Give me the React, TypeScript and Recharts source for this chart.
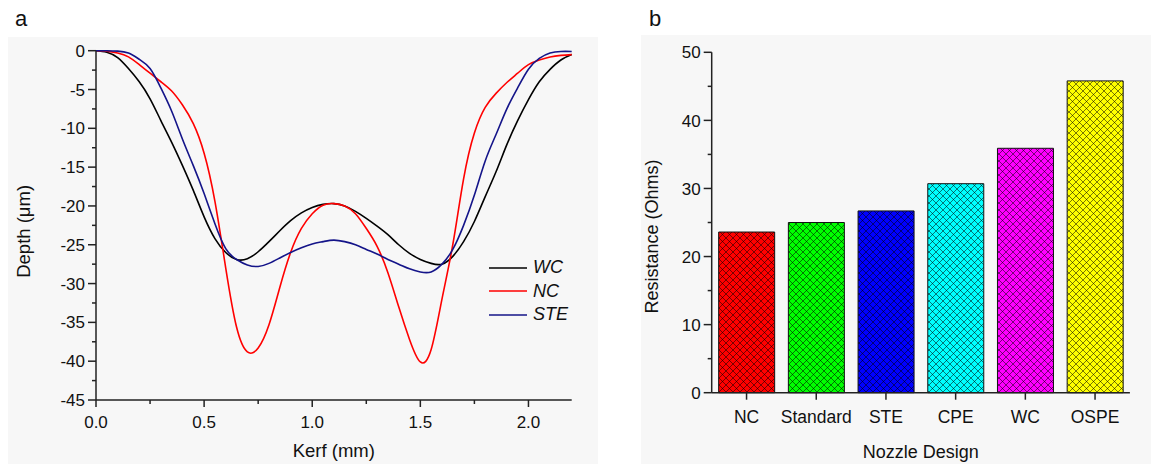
import React from 'react';
import { LineChart, Line, XAxis, YAxis, Legend, BarChart, Bar, Cell } from 'recharts';

// panel a: surface profiles across the kerf
const kerf = [
  0, 0.05, 0.1, 0.15, 0.2, 0.25, 0.3, 0.35, 0.4, 0.45,
  0.5, 0.55, 0.6, 0.65, 0.7, 0.75, 0.8, 0.85, 0.9, 0.95,
  1.0, 1.05, 1.1, 1.15, 1.2, 1.25, 1.3, 1.35, 1.4, 1.45,
  1.5, 1.55, 1.6, 1.65, 1.7, 1.75, 1.8, 1.85, 1.9, 1.95,
  2.0, 2.05, 2.1, 2.15, 2.2,
];
const wcDepth = [
  0, -0.2, -0.9, -2.3, -4.0, -6.2, -9.0, -11.8, -14.8, -18.0,
  -21.4, -24.2, -26.0, -26.9, -26.8, -25.9, -24.6, -23.2, -21.9, -20.9,
  -20.2, -19.8, -19.7, -20.0, -20.7, -21.6, -22.6, -23.7, -25.0, -26.1,
  -26.9, -27.4, -27.5, -26.5, -24.6, -22.0, -18.8, -15.6, -12.1, -9.0,
  -6.3, -4.0, -2.4, -1.2, -0.5,
];
const ncDepth = [
  0, -0.05, -0.3, -0.8, -1.8, -2.9, -4.0, -5.2, -7.0, -9.4,
  -13.2, -19.4, -28.0, -35.6, -38.8, -38.3, -35.3, -30.5, -26.0, -22.9,
  -21.0, -19.9, -19.7, -20.0, -21.0, -22.9, -25.2, -28.6, -33.0, -37.2,
  -40.1, -38.5, -32.0, -25.0, -16.5, -10.6, -7.3, -5.5, -4.1, -2.9,
  -1.8, -1.2, -0.8, -0.6, -0.5,
];
const steDepth = [
  0, 0, -0.05, -0.3, -1.1, -2.3, -4.8, -7.8, -11.4, -14.8,
  -18.4, -22.3, -25.5, -26.9, -27.6, -27.8, -27.4, -26.7, -26.0, -25.4,
  -24.9, -24.6, -24.4, -24.6, -25.0, -25.6, -26.2, -26.9, -27.5, -28.1,
  -28.5, -28.5, -27.5, -25.6, -22.5, -18.6, -14.2, -10.8, -7.5, -4.8,
  -2.4, -1.0, -0.3, -0.1, -0.1,
];
const seriesNames = ['WC', 'NC', 'STE'];
const depthTicks = [
  -45, -42.5, -40, -37.5, -35, -32.5, -30, -27.5, -25, -22.5,
  -20, -17.5, -15, -12.5, -10, -7.5, -5, -2.5, 0,
];
const kerfTicks = [0, 0.25, 0.5, 0.75, 1.0, 1.25, 1.5, 1.75, 2.0];

// panel b: resistance per nozzle design
const designs = ['NC', 'Standard', 'STE', 'CPE', 'WC', 'OSPE'];
const resistance = [23.6, 25.0, 26.7, 30.7, 35.9, 45.8];
const resistanceTicks = [0, 5, 10, 15, 20, 25, 30, 35, 40, 45, 50];
const barColors = ['#ff0000', '#00ff00', '#0000ff', '#00ffff', '#ff00ff', '#ffff00'];

const profileData = kerf.map((k, i) => ({
  kerf: k,
  WC: wcDepth[i],
  NC: ncDepth[i],
  STE: steDepth[i],
}));
const barData = designs.map((d, i) => ({ design: d, resistance: resistance[i] }));

const FONT = '"Liberation Sans", Arial, sans-serif';
const AXIS = '#222';

const isMajor = (v: number, step: number) => Math.abs(v / step - Math.round(v / step)) < 1e-6;

function LeftTick({ x, y, payload, step }: any) {
  const major = isMajor(payload.value, step);
  return (
    <g>
      <line x1={x} x2={x - (major ? 8 : 4)} y1={y} y2={y} stroke={AXIS} strokeWidth={1.5} />
      {major && (
        <text x={x - 11} y={y} dy="0.36em" textAnchor="end" fontSize={17} fill="#111" fontFamily={FONT}>
          {payload.value}
        </text>
      )}
    </g>
  );
}

function BottomTick({ x, y, payload }: any) {
  const major = isMajor(payload.value, 0.5);
  return (
    <g>
      <line x1={x} x2={x} y1={y} y2={y + (major ? 7 : 4)} stroke={AXIS} strokeWidth={1.5} />
      {major && (
        <text x={x} y={y + 16} dy="0.71em" textAnchor="middle" fontSize={17} fill="#111" fontFamily={FONT}>
          {payload.value.toFixed(1)}
        </text>
      )}
    </g>
  );
}

const renderLegend = (props: any) => {
  const items = [...(props.payload || [])].sort(
    (a: any, b: any) => seriesNames.indexOf(a.value) - seriesNames.indexOf(b.value)
  );
  return (
    <div>
      {items.map((item: any) => (
        <div key={item.value} style={{ display: 'flex', alignItems: 'center', height: 23.5 }}>
          <svg width={40} height={4}>
            <line x1={1} x2={39} y1={2} y2={2} stroke={item.color} strokeWidth={1.6} />
          </svg>
          <span style={{ fontStyle: 'italic', fontSize: 18, marginLeft: 5, color: '#111', fontFamily: FONT }}>
            {item.value}
          </span>
        </div>
      ))}
    </div>
  );
};

const panelLetter = (left: number, ch: string) => (
  <div style={{ position: 'absolute', left, top: 5.5, fontSize: 22, fontFamily: FONT, color: '#111' }}>{ch}</div>
);

export default function App() {
  return (
    <div style={{ position: 'absolute', left: 0, top: 0, width: 1151, height: 464, background: '#fff', overflow: 'hidden' }}>
      <div style={{ position: 'absolute', left: 8, top: 37, width: 590, height: 427, background: '#f7f7f7' }} />
      <div style={{ position: 'absolute', left: 641, top: 35, width: 510, height: 429, background: '#f7f7f7' }} />
      {panelLetter(15, 'a')}
      {panelLetter(649, 'b')}

      <div style={{ position: 'absolute', left: 0, top: 0 }}>
        <LineChart width={600} height={464} data={profileData} margin={{ top: 50.7, right: 28.3, bottom: 0, left: 0 }}>
          <XAxis
            dataKey="kerf"
            type="number"
            domain={[0, 2.2]}
            ticks={kerfTicks}
            interval={0}
            height={64}
            tickSize={0}
            tickMargin={0}
            tick={<BottomTick />}
            axisLine={{ stroke: AXIS, strokeWidth: 1.5 }}
            label={{ value: 'Kerf (mm)', position: 'center', dy: 18, fontSize: 18.5, fill: '#111', fontFamily: FONT }}
          />
          <YAxis
            type="number"
            domain={[-45, 0]}
            ticks={depthTicks}
            interval={0}
            width={96}
            tickSize={0}
            tickMargin={0}
            tick={<LeftTick step={5} />}
            axisLine={{ stroke: AXIS, strokeWidth: 1.5 }}
            label={{ value: 'Depth (\u03bcm)', position: 'center', angle: -90, dx: -25, dy: 6, fontSize: 18.5, fill: '#111', fontFamily: FONT }}
          />
          <Line type="natural" dataKey="WC" name="WC" stroke="#000000" strokeWidth={1.6} dot={false} activeDot={false} isAnimationActive={false} />
          <Line type="natural" dataKey="NC" name="NC" stroke="#ff0000" strokeWidth={1.6} dot={false} activeDot={false} isAnimationActive={false} />
          <Line type="natural" dataKey="STE" name="STE" stroke="#141489" strokeWidth={1.6} dot={false} activeDot={false} isAnimationActive={false} />
          <Legend
            layout="vertical"
            align="center"
            verticalAlign="middle"
            content={renderLegend}
            wrapperStyle={{ left: 488, top: 256, width: 100 }}
          />
        </LineChart>
      </div>

      <div style={{ position: 'absolute', left: 600, top: 0 }}>
        <BarChart width={551} height={464} data={barData} margin={{ top: 52.3, right: 21.1, bottom: 0, left: 0 }} barCategoryGap="10%">
          <defs>
            {barColors.map((c, i) => (
              <pattern key={c} id={`hatch-${i}`} width={7} height={7} patternUnits="userSpaceOnUse">
                <rect width={7} height={7} fill={c} />
                <path d="M0,0 L7,7 M7,0 L0,7" stroke="#000" strokeWidth={0.7} strokeOpacity={0.75} />
              </pattern>
            ))}
          </defs>
          <XAxis
            dataKey="design"
            height={71.3}
            interval={0}
            tickSize={7}
            tickMargin={11}
            tick={{ fontSize: 17.5, fill: '#111', fontFamily: FONT }}
            tickLine={{ stroke: AXIS, strokeWidth: 1.5 }}
            axisLine={{ stroke: AXIS, strokeWidth: 1.5 }}
            label={{ value: 'Nozzle Design', position: 'center', dy: 23, fontSize: 18, fill: '#111', fontFamily: FONT }}
          />
          <YAxis
            type="number"
            domain={[0, 50]}
            ticks={resistanceTicks}
            interval={0}
            width={111.7}
            tickSize={0}
            tickMargin={0}
            tick={<LeftTick step={10} />}
            axisLine={{ stroke: AXIS, strokeWidth: 1.5 }}
            label={{ value: 'Resistance (Ohms)', position: 'center', angle: -90, dx: -4, dy: 14, fontSize: 18, fill: '#111', fontFamily: FONT }}
          />
          <Bar dataKey="resistance" stroke="#111" strokeWidth={1} isAnimationActive={false}>
            {barData.map((d, i) => (
              <Cell key={d.design} fill={`url(#hatch-${i})`} />
            ))}
          </Bar>
        </BarChart>
      </div>
    </div>
  );
}
